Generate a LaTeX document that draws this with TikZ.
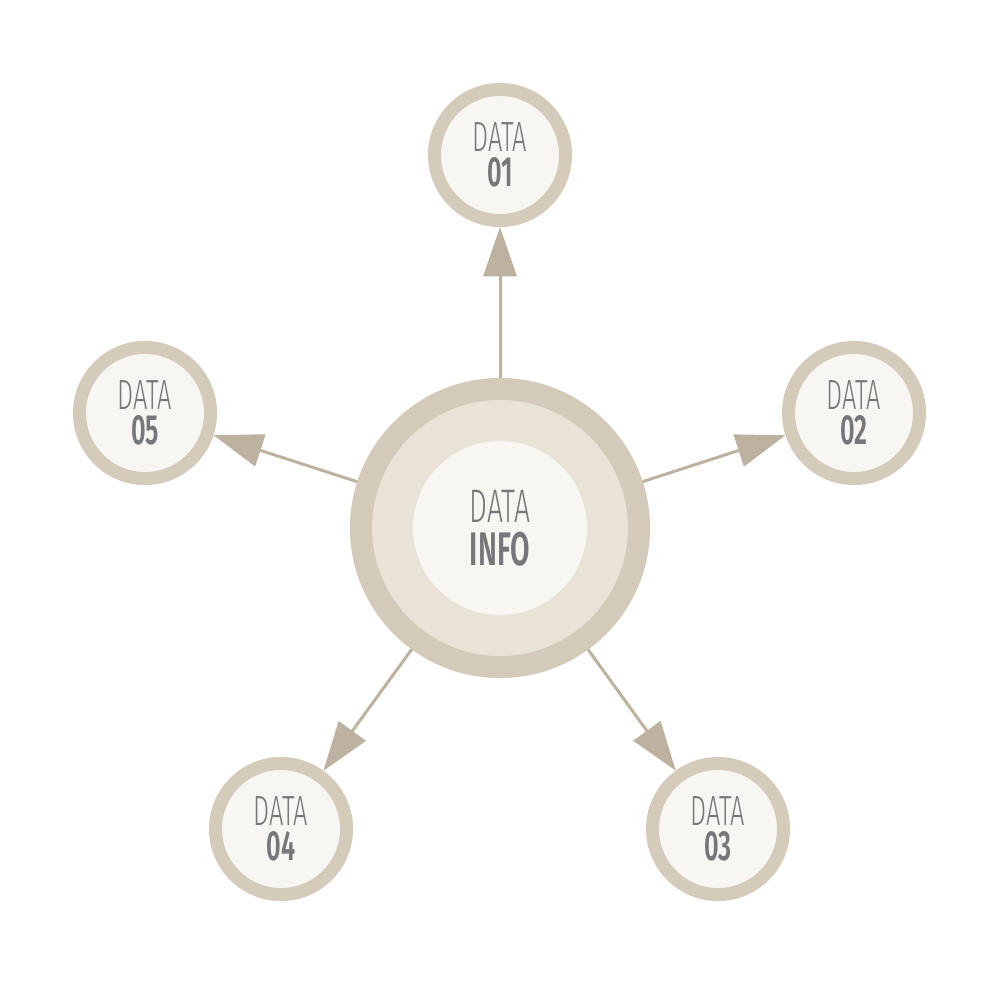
\documentclass[tikz,border=0pt]{standalone}
\usepackage{fontspec}
\usetikzlibrary{arrows.meta}
\newfontfamily\thinface{Fira Sans Light}[FakeStretch=0.6]
\newfontfamily\numface{Fira Sans SemiBold}[FakeStretch=0.6]
\definecolor{ringouter}{HTML}{D4CAB9}
\definecolor{ringmid}{HTML}{E9E2D6}
\definecolor{ringinner}{HTML}{F8F6F1}
\definecolor{smallring}{HTML}{D5CBBA}
\definecolor{smallfill}{HTML}{F8F6F2}
\definecolor{linktan}{HTML}{BDB29F}
\definecolor{labelgray}{HTML}{76777A}
\newcommand{\datalabel}[1]{{\thinface DATA}\\{\numface #1}}

\begin{document}
\begin{tikzpicture}[x=0.01cm, y=-0.01cm,
        datanode/.style={circle, draw=smallring, line width=3.7pt, fill=smallfill,
            minimum size=1.31cm, inner sep=0pt, align=center, text=labelgray,
            font=\fontsize{12}{10}\selectfont},
        link/.style={-{Triangle[length=14pt, width=9.4pt]}, draw=linktan, line width=0.85pt}]
        \fill[white] (0, 0) rectangle (1000, 1000);
        \useasboundingbox (0, 0) rectangle (1000, 1000);
        % centre
        \node[circle, draw=ringouter, line width=6.26pt, fill=ringmid, minimum size=2.78cm] (info) at (500, 528) {};
        \node[circle, fill=ringinner, minimum size=1.74cm, inner sep=0pt, align=center, text=labelgray,
            font=\fontsize{13.4}{12.2}\selectfont] (infotext) at (info) {\datalabel{INFO}};
        % satellites
        \node[datanode] (d01) at (500, 155) {\datalabel{01}};
        \node[datanode] (d02) at (854, 413) {\datalabel{02}};
        \node[datanode] (d03) at (718, 829) {\datalabel{03}};
        \node[datanode] (d04) at (281, 829) {\datalabel{04}};
        \node[datanode] (d05) at (145, 413) {\datalabel{05}};
        \draw[link] (info) -- (d01);
        \draw[link] (info) -- (d02);
        \draw[link] (info) -- (d03);
        \draw[link] (info) -- (d04);
        \draw[link] (info) -- (d05);
    \end{tikzpicture}
\end{document}
